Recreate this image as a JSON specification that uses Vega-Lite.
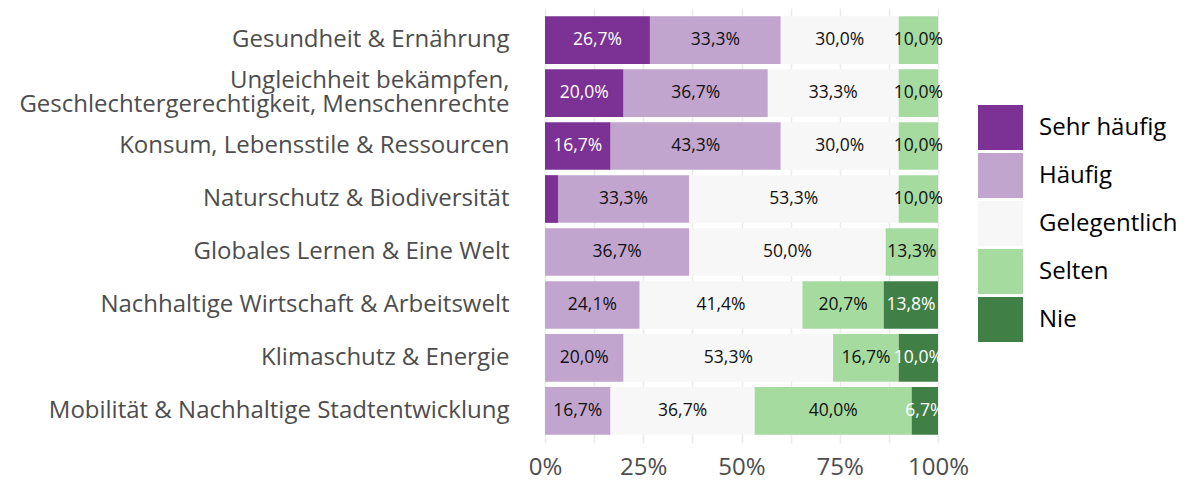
{
  "$schema": "https://vega.github.io/schema/vega-lite/v6.json",
  "width": 393,
  "height": 435,
  "autosize": {"type": "none"},
  "padding": {"left": 545, "top": 8, "right": 251, "bottom": 39},
  "background": "white",
  "config": {
    "view": {"stroke": null},
    "font": "Open Sans",
    "locale": {"number": {"decimal": ",", "thousands": ".", "grouping": [3], "currency": ["", " €"]}}
  },
  "data": {
    "values": [
      {"topic": "Gesundheit & Ernährung", "cat": "Sehr häufig", "rank": 1, "share": 0.267},
      {"topic": "Gesundheit & Ernährung", "cat": "Häufig", "rank": 2, "share": 0.333},
      {"topic": "Gesundheit & Ernährung", "cat": "Gelegentlich", "rank": 3, "share": 0.300},
      {"topic": "Gesundheit & Ernährung", "cat": "Selten", "rank": 4, "share": 0.100},
      {"topic": "Ungleichheit bekämpfen,|Geschlechtergerechtigkeit, Menschenrechte", "cat": "Sehr häufig", "rank": 1, "share": 0.200},
      {"topic": "Ungleichheit bekämpfen,|Geschlechtergerechtigkeit, Menschenrechte", "cat": "Häufig", "rank": 2, "share": 0.367},
      {"topic": "Ungleichheit bekämpfen,|Geschlechtergerechtigkeit, Menschenrechte", "cat": "Gelegentlich", "rank": 3, "share": 0.333},
      {"topic": "Ungleichheit bekämpfen,|Geschlechtergerechtigkeit, Menschenrechte", "cat": "Selten", "rank": 4, "share": 0.100},
      {"topic": "Konsum, Lebensstile & Ressourcen", "cat": "Sehr häufig", "rank": 1, "share": 0.167},
      {"topic": "Konsum, Lebensstile & Ressourcen", "cat": "Häufig", "rank": 2, "share": 0.433},
      {"topic": "Konsum, Lebensstile & Ressourcen", "cat": "Gelegentlich", "rank": 3, "share": 0.300},
      {"topic": "Konsum, Lebensstile & Ressourcen", "cat": "Selten", "rank": 4, "share": 0.100},
      {"topic": "Naturschutz & Biodiversität", "cat": "Sehr häufig", "rank": 1, "share": 0.033},
      {"topic": "Naturschutz & Biodiversität", "cat": "Häufig", "rank": 2, "share": 0.333},
      {"topic": "Naturschutz & Biodiversität", "cat": "Gelegentlich", "rank": 3, "share": 0.533},
      {"topic": "Naturschutz & Biodiversität", "cat": "Selten", "rank": 4, "share": 0.100},
      {"topic": "Globales Lernen & Eine Welt", "cat": "Häufig", "rank": 2, "share": 0.367},
      {"topic": "Globales Lernen & Eine Welt", "cat": "Gelegentlich", "rank": 3, "share": 0.500},
      {"topic": "Globales Lernen & Eine Welt", "cat": "Selten", "rank": 4, "share": 0.133},
      {"topic": "Nachhaltige Wirtschaft & Arbeitswelt", "cat": "Häufig", "rank": 2, "share": 0.241},
      {"topic": "Nachhaltige Wirtschaft & Arbeitswelt", "cat": "Gelegentlich", "rank": 3, "share": 0.414},
      {"topic": "Nachhaltige Wirtschaft & Arbeitswelt", "cat": "Selten", "rank": 4, "share": 0.207},
      {"topic": "Nachhaltige Wirtschaft & Arbeitswelt", "cat": "Nie", "rank": 5, "share": 0.138},
      {"topic": "Klimaschutz & Energie", "cat": "Häufig", "rank": 2, "share": 0.200},
      {"topic": "Klimaschutz & Energie", "cat": "Gelegentlich", "rank": 3, "share": 0.533},
      {"topic": "Klimaschutz & Energie", "cat": "Selten", "rank": 4, "share": 0.167},
      {"topic": "Klimaschutz & Energie", "cat": "Nie", "rank": 5, "share": 0.100},
      {"topic": "Mobilität & Nachhaltige Stadtentwicklung", "cat": "Häufig", "rank": 2, "share": 0.167},
      {"topic": "Mobilität & Nachhaltige Stadtentwicklung", "cat": "Gelegentlich", "rank": 3, "share": 0.367},
      {"topic": "Mobilität & Nachhaltige Stadtentwicklung", "cat": "Selten", "rank": 4, "share": 0.400},
      {"topic": "Mobilität & Nachhaltige Stadtentwicklung", "cat": "Nie", "rank": 5, "share": 0.067}
    ]
  },
  "transform": [
    {"stack": "share", "groupby": ["topic"], "sort": [{"field": "rank", "order": "ascending"}], "offset": "normalize", "as": ["x0", "x1"]},
    {"calculate": "(datum.x0 + datum.x1) / 2", "as": "mid"}
  ],
  "encoding": {
    "y": {
      "field": "topic",
      "type": "nominal",
      "sort": [
        "Gesundheit & Ernährung",
        "Ungleichheit bekämpfen,|Geschlechtergerechtigkeit, Menschenrechte",
        "Konsum, Lebensstile & Ressourcen",
        "Naturschutz & Biodiversität",
        "Globales Lernen & Eine Welt",
        "Nachhaltige Wirtschaft & Arbeitswelt",
        "Klimaschutz & Energie",
        "Mobilität & Nachhaltige Stadtentwicklung"
      ],
      "scale": {"paddingInner": 0.1, "paddingOuter": 0.155},
      "axis": {
        "title": null,
        "ticks": false,
        "domain": false,
        "grid": false,
        "labelFont": "Open Sans",
        "labelFontSize": 24,
        "labelColor": "#4D4D4D",
        "labelPadding": 36,
        "labelLineHeight": 24,
        "labelLimit": 600,
        "labelOffset": {"condition": {"test": "indexof(datum.label, '|') >= 0", "value": -12}, "value": 0},
        "labelExpr": "split(datum.label, '|')"
      }
    }
  },
  "layer": [
    {
      "mark": {"type": "bar", "strokeWidth": 0},
      "encoding": {
        "x": {
          "field": "x0",
          "type": "quantitative",
          "scale": {"domain": [0, 1], "nice": false, "zero": true},
          "axis": {
            "title": null,
            "values": [0, 0.125, 0.25, 0.375, 0.5, 0.625, 0.75, 0.875, 1],
            "labelExpr": "(datum.value * 4) % 1 == 0 ? format(datum.value, '.0%') : ''",
            "labelOverlap": false,
            "labelFlush": false,
            "grid": true,
            "gridColor": "#EBEBEB",
            "gridWidth": 1.5,
            "ticks": false,
            "domain": false,
            "labelFont": "Open Sans",
            "labelFontSize": 24,
            "labelColor": "#4D4D4D",
            "labelPadding": 12
          }
        },
        "x2": {"field": "x1"},
        "color": {
          "field": "cat",
          "type": "nominal",
          "scale": {
            "domain": ["Sehr häufig", "Häufig", "Gelegentlich", "Selten", "Nie"],
            "range": ["#7B3294", "#C2A5CF", "#F7F7F7", "#A6DBA0", "#408046"]
          },
          "legend": {
            "title": null,
            "orient": "none",
            "legendX": 433,
            "legendY": 97,
            "padding": 0,
            "symbolType": "square",
            "symbolSize": 2025,
            "symbolStrokeWidth": 0,
            "rowPadding": 3,
            "labelOffset": 16,
            "labelFont": "Open Sans",
            "labelFontSize": 24,
            "labelColor": "#000000"
          }
        }
      }
    },
    {
      "transform": [{"filter": "datum.share >= 0.05"}],
      "mark": {"type": "text", "fontSize": 17.5, "font": "Open Sans"},
      "encoding": {
        "x": {"field": "mid", "type": "quantitative"},
        "text": {"field": "share", "type": "quantitative", "format": ".1%"},
        "color": {
          "condition": {"test": "datum.cat === 'Sehr häufig' || datum.cat === 'Nie'", "value": "#FFFFFF"},
          "value": "#111111"
        }
      }
    }
  ]
}
